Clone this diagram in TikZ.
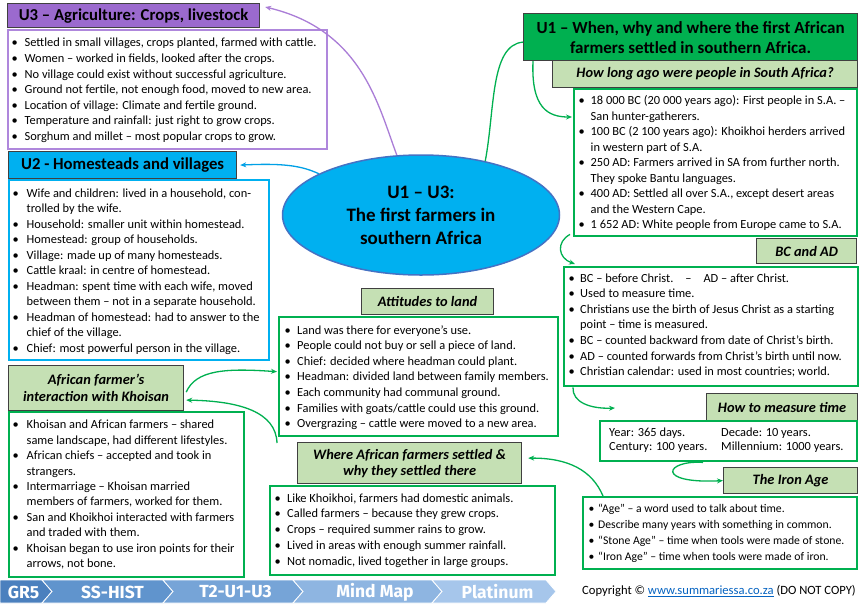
\documentclass[tikz,border=0pt]{standalone}
\usepackage{fontspec}
\setmainfont{Carlito}
\newfontfamily\barfont{Fira Sans}
\usetikzlibrary{arrows.meta,shapes.geometric,calc}
\definecolor{purpT}{RGB}{155,106,206}
\definecolor{purpB}{RGB}{175,135,220}
\definecolor{purpC}{RGB}{170,125,215}
\definecolor{cyanT}{RGB}{0,176,240}
\definecolor{cyanC}{RGB}{0,160,230}
\definecolor{grn}{RGB}{0,176,80}
\definecolor{lgrn}{RGB}{197,224,180}
\definecolor{ellB}{RGB}{68,114,196}
\definecolor{dk}{RGB}{64,64,64}
\definecolor{segA}{RGB}{75,128,190}
\definecolor{segB}{RGB}{96,148,205}
\definecolor{segC}{RGB}{118,164,215}
\definecolor{segD}{RGB}{142,181,225}
\definecolor{segE}{RGB}{166,198,235}
\definecolor{linkblue}{RGB}{5,99,193}
\newlength\bw
\newcommand\bi[1]{\makebox[\bw][l]{\textbullet}#1}
\newcommand\ct[1]{\hspace*{\bw}#1}
\newcommand\bodyfont[1]{\fontsize{12.4}{#1}\selectfont}
\tikzset{
 titlebox/.style={draw=dk, line width=1.2pt, anchor=north west, inner sep=0pt, align=center, font=\fontsize{16.7}{20}\selectfont\bfseries},
 headbox/.style={draw=dk, line width=1.2pt, fill=lgrn, anchor=north west, inner sep=0pt, align=center, font=\fontsize{14.4}{16.5}\selectfont\bfseries\itshape},
 bodybox/.style={line width=2.4pt, fill=white, anchor=north west, inner sep=0pt},
 bodytxt/.style={anchor=north west, inner sep=0pt, align=left},
 conn/.style={line width=1.3pt, -{Stealth[length=6pt,width=5pt]}},
 barseg/.style={draw=white, line width=0.8pt},
 bartxt/.style={text=white, inner sep=0pt, font=\barfont\bfseries\fontsize{17.5}{18}\selectfont},
}
\begin{document}
\begin{tikzpicture}[x=1pt,y=-1pt]
\useasboundingbox (0,0) rectangle (861,603);
\fill[white] (0,0) rectangle (861,603);

% U3
\node[titlebox, fill=purpT, minimum width=252pt, minimum height=24pt] (u3t) at (7,3) {U3 – Agriculture: Crops, livestock};
\node[bodybox, draw=purpB, minimum width=319pt, minimum height=119pt] (u3b) at (7,29) {};
\node[bodytxt, font=\bodyfont{15.6}\setlength\bw{13pt}] (u3x) at (11.5,35.7) {\strut\bi{Settled in small villages, crops planted, farmed with cattle.}\\
\bi{Women – worked in fields, looked after the crops.}\\
\bi{No village could exist without successful agriculture.}\\
\bi{Ground not fertile, not enough food, moved to new area.}\\
\bi{Location of village: Climate and fertile ground.}\\
\bi{Temperature and rainfall: just right to grow crops.}\\
\bi{Sorghum and millet – most popular crops to grow.}};

% U2
\node[titlebox, fill=cyanT, minimum width=228pt, minimum height=27pt] (u2t) at (8,151) {U2 - Homesteads and villages};
\node[bodybox, draw=cyanT, minimum width=260pt, minimum height=180pt] (u2b) at (8,179) {};
\node[bodytxt, font=\bodyfont{15.5}\setlength\bw{14pt}] (u2x) at (12.5,186) {\strut\bi{Wife and children: lived in a household, con-}\\
\ct{trolled by the wife.}\\
\bi{Household: smaller unit within homestead.}\\
\bi{Homestead: group of households.}\\
\bi{Village: made up of many homesteads.}\\
\bi{Cattle kraal: in centre of homestead.}\\
\bi{Headman: spent time with each wife, moved}\\
\ct{between them – not in a separate household.}\\
\bi{Headman of homestead: had to answer to the}\\
\ct{chief of the village.}\\
\bi{Chief: most powerful person in the village.}};

% centre
\node[ellipse, draw=ellB, line width=1.5pt, fill=cyanT, minimum width=277pt, minimum height=120pt, inner sep=0pt, align=center, font=\fontsize{19}{23}\selectfont\bfseries] (cen) at (421,215) {U1 – U3:\\The first farmers in\\southern Africa};

% U1
\node[titlebox, fill=grn, minimum width=334pt, minimum height=47pt, font=\fontsize{17}{20}\selectfont\bfseries] (u1t) at (523,13) {U1 – When, why and where the first African\\farmers settled in southern Africa.};
\node[headbox, minimum width=305pt, minimum height=27pt] (hlt) at (552,60) {How long ago were people in South Africa?};
\node[bodybox, draw=grn, minimum width=283pt, minimum height=147pt] (hlb) at (573,88) {};
\node[bodytxt, font=\bodyfont{15.5}\setlength\bw{12pt}] (hlx) at (578.5,93.5) {\strut\bi{18 000 BC (20 000 years ago): First people in S.A. –}\\
\ct{San hunter-gatherers.}\\
\bi{100 BC (2 100 years ago): Khoikhoi herders arrived}\\
\ct{in western part of S.A.}\\
\bi{250 AD: Farmers arrived in SA from further north.}\\
\ct{They spoke Bantu languages.}\\
\bi{400 AD: Settled all over S.A., except desert areas}\\
\ct{and the Western Cape.}\\
\bi{1 652 AD: White people from Europe came to S.A.}};

% BC and AD
\node[headbox, minimum width=100pt, minimum height=25pt] (bct) at (756,238) {BC and AD};
\node[bodybox, draw=grn, minimum width=294pt, minimum height=119pt] (bcb) at (563,266) {};
\node[bodytxt, font=\bodyfont{15.6}\setlength\bw{11.5pt}] (bcx) at (568.5,271) {\strut\bi{BC – before Christ.\hspace{12pt}–\hspace{12pt}AD – after Christ.}\\
\bi{Used to measure time.}\\
\bi{Christians use the birth of Jesus Christ as a starting}\\
\ct{point – time is measured.}\\
\bi{BC – counted backward from date of Christ’s birth.}\\
\bi{AD – counted forwards from Christ’s birth until now.}\\
\bi{Christian calendar: used in most countries; world.}};

% measure time
\node[headbox, minimum width=151pt, minimum height=27pt] (mtt) at (706,393) {How to measure time};
\node[bodybox, draw=grn, minimum width=257pt, minimum height=40pt] (mtb) at (599,420) {};
\node[bodytxt, font=\bodyfont{14.5}] (mtx1) at (609,426) {\strut Year: 365 days.\\Century: 100 years.};
\node[bodytxt, font=\bodyfont{14.5}] (mtx2) at (721,426) {\strut Decade: 10 years.\\Millennium: 1000 years.};

% Iron Age
\node[headbox, minimum width=134pt, minimum height=26pt] (iat) at (723,467) {The Iron Age};
\node[bodybox, draw=grn, minimum width=274pt, minimum height=72pt] (iab) at (582,496) {};
\node[bodytxt, font=\fontsize{11.7}{16}\selectfont\setlength\bw{9.5pt}] (iax) at (588.5,501) {\strut\bi{“Age” – a word used to talk about time.}\\
\bi{Describe many years with something in common.}\\
\bi{“Stone Age” – time when tools were made of stone.}\\
\bi{“Iron Age” – time when tools were made of iron.}};

% Attitudes to land
\node[headbox, minimum width=132pt, minimum height=26pt] (att) at (361,288) {Attitudes to land};
\node[bodybox, draw=grn, minimum width=279pt, minimum height=119pt] (atb) at (278,316) {};
\node[bodytxt, font=\bodyfont{15.6}\setlength\bw{12.5pt}] (atx) at (284.5,323) {\strut\bi{Land was there for everyone’s use.}\\
\bi{People could not buy or sell a piece of land.}\\
\bi{Chief: decided where headman could plant.}\\
\bi{Headman: divided land between family members.}\\
\bi{Each community had communal ground.}\\
\bi{Families with goats/cattle could use this ground.}\\
\bi{Overgrazing – cattle were moved to a new area.}};

% African farmer's interaction
\node[headbox, minimum width=175pt, minimum height=45pt, font=\fontsize{14.4}{17}\selectfont\bfseries\itshape] (aft) at (8,365) {African farmer’s\\interaction with Khoisan};
\node[bodybox, draw=grn, minimum width=235pt, minimum height=165pt] (afb) at (8,411) {};
\node[bodytxt, font=\bodyfont{15.4}\setlength\bw{14pt}] (afx) at (12.5,418) {\strut\bi{Khoisan and African farmers – shared}\\
\ct{same landscape, had different lifestyles.}\\
\bi{African chiefs – accepted and took in}\\
\ct{strangers.}\\
\bi{Intermarriage – Khoisan married}\\
\ct{members of farmers, worked for them.}\\
\bi{San and Khoikhoi interacted with farmers}\\
\ct{and traded with them.}\\
\bi{Khoisan began to use iron points for their}\\
\ct{arrows, not bone.}};

% Where African farmers settled
\node[headbox, minimum width=224pt, minimum height=41pt, font=\fontsize{14.4}{16}\selectfont\bfseries\itshape] (wht) at (297,442) {Where African farmers settled \&\\why they settled there};
\node[bodybox, draw=grn, minimum width=285pt, minimum height=89pt] (whb) at (269,485) {};
\node[bodytxt, font=\bodyfont{15.7}\setlength\bw{12.5pt}] (whx) at (274.5,491) {\strut\bi{Like Khoikhoi, farmers had domestic animals.}\\
\bi{Called farmers – because they grew crops.}\\
\bi{Crops – required summer rains to grow.}\\
\bi{Lived in areas with enough summer rainfall.}\\
\bi{Not nomadic, lived together in large groups.}};

% connectors
\draw[conn, draw=purpC] (cen.112) .. controls (378,105) and (362,30) .. ([xshift=5pt,yshift=-4pt]u3t.north east);
\draw[conn, draw=cyanC] (cen.158) .. controls (302,166) and (285,163) .. ([xshift=3pt]u2t.east);
\draw[line width=1.3pt, draw=grn] (cen.40) .. controls (495,110) and (490,45) .. ([yshift=-5pt]u1t.west);
\draw[conn, draw=grn] ([xshift=10pt]u1t.south west) .. controls (531,108) and (548,117) .. ([xshift=-1pt,yshift=-29pt]hlb.north west);
\draw[conn, draw=grn] ([xshift=-3pt,yshift=3pt]hlb.south west) .. controls (556,242) and (558,258) .. ([xshift=12pt,yshift=2pt]bcb.north west);
\coordinate (e6) at (615,408);
\draw[conn, draw=grn] ([xshift=10pt]bcb.south west) .. controls (572,402) and (590,409) .. (e6);
\draw[conn, draw=grn] ([xshift=104pt]mtb.south west) .. controls (665,460) and (655,484) .. (iat.west);
\draw[conn, draw=grn] ([xshift=21pt]iab.north west) .. controls (592,470) and (568,458) .. ([xshift=6pt,yshift=5pt]wht.east);
\draw[conn, draw=grn] ([xshift=2pt,yshift=-4pt]aft.east) .. controls (196,370) and (225,368) .. ([xshift=-1pt,yshift=5pt]atb.west);
\coordinate (s10) at (277,443);
\draw[conn, draw=grn] (s10) .. controls (276,412) and (240,401) .. ([xshift=2pt,yshift=-12pt]aft.east);

% bottom bar
\fill[segA, barseg] (0,580) -- (42,580) -- (52,591.5) -- (42,603) -- (0,603) -- cycle;
\fill[segB, barseg] (42,580) -- (163,580) -- (173,591.5) -- (163,603) -- (42,603) -- (52,591.5) -- cycle;
\fill[segC, barseg] (163,580) -- (293,580) -- (303,591.5) -- (293,603) -- (163,603) -- (173,591.5) -- cycle;
\fill[segD, barseg] (293,580) -- (432,580) -- (442,591.5) -- (432,603) -- (293,603) -- (303,591.5) -- cycle;
\fill[segE, barseg] (432,580) -- (546,580) -- (556,591.5) -- (546,603) -- (432,603) -- (442,591.5) -- cycle;
\node[bartxt] (b1) at (23.5,592) {GR5};
\node[bartxt] (b2) at (112.5,592) {SS-HIST};
\node[bartxt] (b3) at (235.5,592) {T2-U1-U3};
\node[bartxt] (b4) at (375,592) {Mind Map};
\node[bartxt] (b5) at (497.5,592) {Platinum};
\node[anchor=east, inner sep=0pt, font=\fontsize{12.6}{13}\selectfont] (copy) at (856,591) {Copyright © \textcolor{linkblue}{\underline{www.summariessa.co.za}} (DO NOT COPY)};
\end{tikzpicture}
\end{document}
